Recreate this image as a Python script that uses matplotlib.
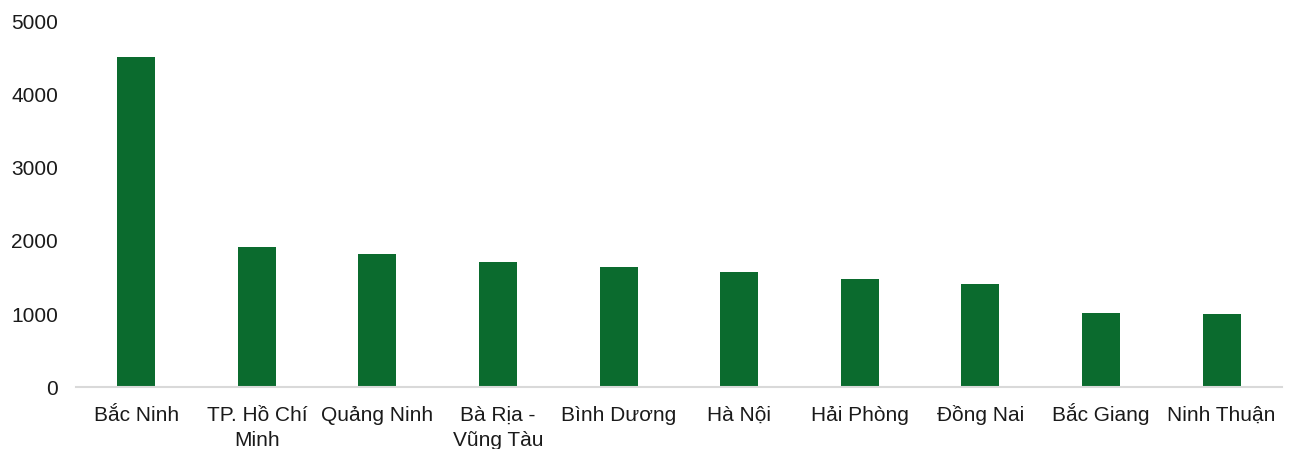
import matplotlib
matplotlib.use("Agg")
import matplotlib.pyplot as plt
import matplotlib.transforms as mtransforms

# provinces and values
provinces = ["Bắc Ninh", "TP. Hồ Chí\nMinh", "Quảng Ninh", "Bà Rịa -\nVũng Tàu", "Bình Dương",
             "Hà Nội", "Hải Phòng", "Đồng Nai", "Bắc Giang", "Ninh Thuận"]
values = [4510, 1915, 1815, 1710, 1648, 1570, 1480, 1415, 1020, 1005]
yticks = [0, 1000, 2000, 3000, 4000, 5000]

plt.rcParams["font.family"] = ["Liberation Sans", "DejaVu Sans"]

fig = plt.figure(figsize=(12.91, 4.49), dpi=100)
ax = fig.add_axes([0.0589, 0.137, 0.934, 0.816])

x = range(len(provinces))
ax.bar(x, values, width=0.315, color="#0B6B2E")

ax.set_xlim(-0.5, len(provinces) - 0.5)
ax.set_ylim(0, 5000)
ax.set_yticks(yticks)
ax.set_yticklabels([str(t) for t in yticks])
ax.set_xticks(list(x))
ax.set_xticklabels([])
ax.tick_params(axis="y", length=0, pad=13, labelsize=15, colors="#1a1a1a")
ax.tick_params(axis="x", length=0)

# category labels drawn line by line, each on its own baseline
base = mtransforms.blended_transform_factory(ax.transData, ax.transAxes)
line_gap = 18  # points between baselines
for i, name in enumerate(provinces):
    for j, line in enumerate(name.split("\n")):
        tr = base + mtransforms.ScaledTranslation(0, -(24 + j * line_gap) / 72, fig.dpi_scale_trans)
        ax.text(i, 0, line, transform=tr, ha="center", va="baseline",
                fontsize=15, color="#1a1a1a")

for s in ["top", "right", "left"]:
    ax.spines[s].set_visible(False)
ax.spines["bottom"].set_color("#d9d9d9")
ax.spines["bottom"].set_linewidth(1.5)

fig.savefig("out.png", dpi=100)
